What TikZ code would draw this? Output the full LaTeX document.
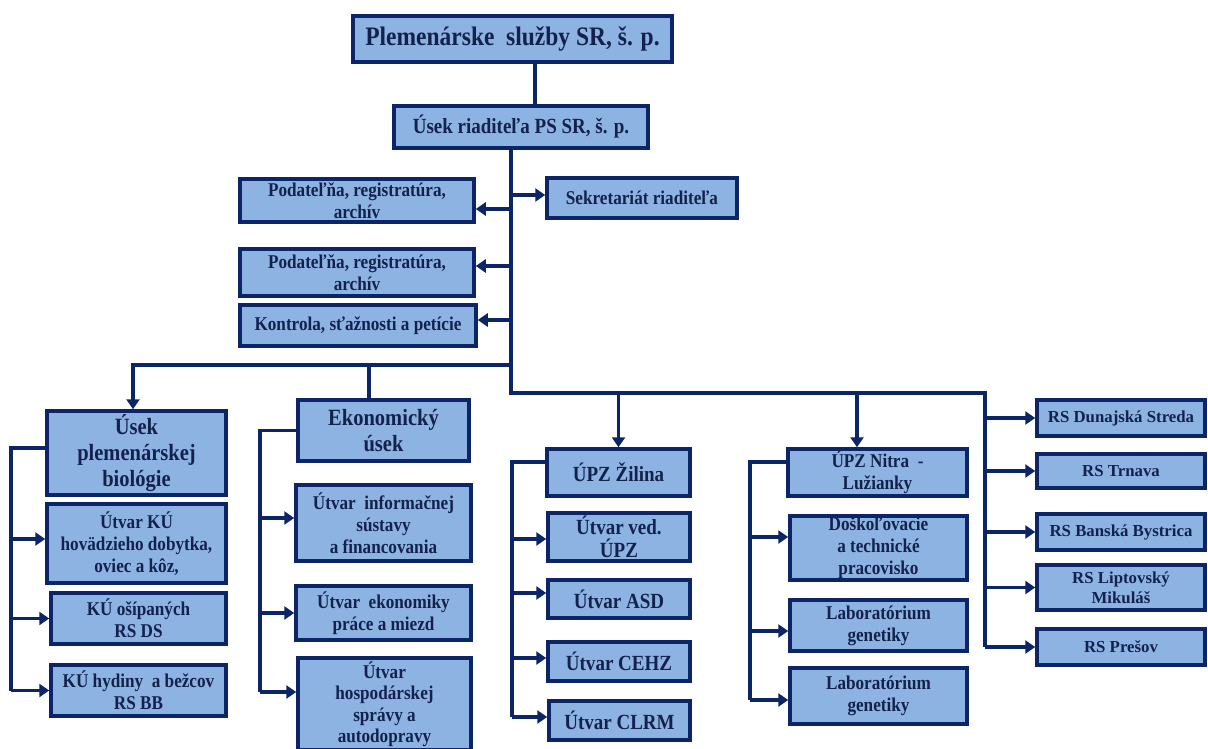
\documentclass[tikz,border=0pt]{standalone}
\usepackage{fontspec}
\setmainfont{Liberation Serif}[FakeStretch=0.88]
\newfontfamily\rsfont{Liberation Serif}
\usetikzlibrary{arrows.meta}
\definecolor{navy}{HTML}{0B2566}
\definecolor{fillb}{HTML}{8DB3E2}
\definecolor{txt}{HTML}{13224D}
\tikzset{
 box/.style={draw=navy, fill=fillb, line width=3.5pt, text=txt, align=center, inner sep=0pt, font=\fontsize{19.5}{22}\selectfont\bfseries},
 bigtxt/.style={font=\fontsize{23.3}{26}\selectfont\bfseries},
 midtxt/.style={font=\fontsize{21.6}{23}\selectfont\bfseries},
 rstxt/.style={font=\rsfont\fontsize{16.8}{20}\selectfont\bfseries},
 conn/.style={draw=navy, line width=3.5pt},
 arr/.style={conn, -{Triangle[length=10pt,width=13pt]}},
}
\begin{document}
\begin{tikzpicture}[x=1pt,y=-1pt]
\useasboundingbox (0,0) rectangle (1208,749);
\clip (0,0) rectangle (1208,749);
% top
\node[box, line width=4.5pt, font=\fontsize{26.7}{30}\selectfont\bfseries, minimum width=319pt, minimum height=46pt] (top) at (512.5,39) {Plemenárske\ \ služby SR, š. p.};
\node[box, midtxt, minimum width=254pt, minimum height=42pt] (usek) at (521,127) {Úsek riaditeľa PS SR, š. p.};
\node[box, minimum width=234pt, minimum height=43pt] (pod1) at (357,200.5) {Podateľňa, registratúra,\\ archív};
\node[box, minimum width=190pt, minimum height=40pt] (sekr) at (642,198) {Sekretariát riaditeľa};
\node[box, minimum width=234pt, minimum height=47pt] (pod2) at (357,272.5) {Podateľňa, registratúra,\\ archív};
\node[box, minimum width=236pt, minimum height=41pt] (kontr) at (358,325.5) {Kontrola, sťažnosti a petície};
% column 1
\node[box, bigtxt, minimum width=179pt, minimum height=84pt] (upb) at (136.5,453) {Úsek\\plemenárskej\\biológie};
\node[box, minimum width=179pt, minimum height=79pt] (utku) at (136.5,543.5) {Útvar KÚ\\hovädzieho dobytka,\\oviec a kôz,};
\node[box, minimum width=175pt, minimum height=51pt] (kuos) at (138.5,618.5) {KÚ ošípaných\\RS DS};
\node[box, minimum width=175pt, minimum height=51pt] (kuhy) at (138.5,690.5) {KÚ hydiny\ \ a bežcov\\RS BB};
% column 2
\node[box, bigtxt, minimum width=171pt, minimum height=61pt] (eko) at (383.5,430.5) {Ekonomický\\úsek};
\node[box, minimum width=175pt, minimum height=76pt] (inf) at (383.5,523) {Útvar\ \ informačnej\\sústavy\\a financovania};
\node[box, minimum width=175pt, minimum height=54pt] (ekon) at (383.5,613) {Útvar\ \ ekonomiky\\práce a miezd};
\node[box, font=\fontsize{19.5}{21.5}\selectfont\bfseries, minimum width=173pt, minimum height=92pt] (hosp) at (384.5,704) {Útvar\\hospodárskej\\správy a\\autodopravy};
% column 3
\node[box, midtxt, minimum width=143pt, minimum height=47pt] (zil) at (618.5,472.5) {ÚPZ Žilina};
\node[box, midtxt, minimum width=142pt, minimum height=48pt] (ved) at (619,537) {Útvar ved.\\ÚPZ};
\node[box, midtxt, minimum width=142pt, minimum height=38pt] (asd) at (619,599) {Útvar ASD};
\node[box, midtxt, minimum width=142pt, minimum height=39pt] (cehz) at (619,661.5) {Útvar CEHZ};
\node[box, midtxt, minimum width=141pt, minimum height=39pt] (clrm) at (619.5,720.5) {Útvar CLRM};
% column 4
\node[box, minimum width=179pt, minimum height=47pt] (nitra) at (877.5,472.5) {ÚPZ Nitra\ \ -\\Lužianky};
\node[box, minimum width=177pt, minimum height=64pt] (dosk) at (878.5,548) {Doškoľovacie\\a technické\\pracovisko};
\node[box, minimum width=177pt, minimum height=51pt] (lab1) at (878.5,625.5) {Laboratórium\\genetiky};
\node[box, minimum width=177pt, minimum height=56pt] (lab2) at (878.5,696) {Laboratórium\\genetiky};
% column 5
\node[box, rstxt, minimum width=168pt, minimum height=36pt] (rs1) at (1121,418) {RS Dunajská Streda};
\node[box, rstxt, minimum width=168pt, minimum height=34pt] (rs2) at (1121,471) {RS Trnava};
\node[box, rstxt, minimum width=168pt, minimum height=36pt] (rs3) at (1121,532) {RS Banská Bystrica};
\node[box, rstxt, minimum width=168pt, minimum height=45pt] (rs4) at (1121,587.5) {RS Liptovský\\Mikuláš};
\node[box, rstxt, minimum width=168pt, minimum height=36pt] (rs5) at (1121,647) {RS Prešov};

% connectors
\coordinate (a1) at ([xshift=14pt]usek.north);
\draw[conn] (a1 |- top.south) -- (a1);
\coordinate (t0) at ([xshift=-10pt]usek.south);
\coordinate (bj) at (511,393);
\coordinate (rj) at (985,393);
\coordinate (lj) at (511,365);
\draw[conn] (t0) -- (bj) -- (rj) -- (rj |- rs5.west);
\coordinate (s1) at ([yshift=3pt]sekr.west);
\draw[arr] (s1 -| t0) -- (s1);
\coordinate (p1) at ([yshift=-8.5pt]pod1.east);
\draw[arr] (p1 -| t0) -- (p1);
\coordinate (p2) at ([yshift=6.5pt]pod2.east);
\draw[arr] (p2 -| t0) -- (p2);
\coordinate (p3) at ([yshift=5.5pt]kontr.east);
\draw[arr] (p3 -| t0) -- (p3);
% left bar
\coordinate (ua) at ([xshift=-3.5pt]upb.north);
\draw[arr] (lj) -- (lj -| ua) -- (ua);
\coordinate (ek) at (369,365);
\draw[conn] (ek) -- (ek |- eko.north);
% bracket column 1
\coordinate (ux) at (11,0);
\coordinate (u1) at ([yshift=5pt]upb.west);
\draw[conn] (u1) -- (u1 -| ux) -- (ux |- kuhy.west);
\coordinate (u2) at ([yshift=4.5pt]utku.west);
\draw[arr] (u2 -| ux) -- (u2);
\draw[arr] (ux |- kuos.west) -- (kuos.west);
\draw[arr] (ux |- kuhy.west) -- (kuhy.west);
% bracket column 2
\coordinate (ex) at (260,0);
\coordinate (h1) at ([yshift=12pt]hosp.west);
\draw[conn] (eko.west) -- (eko.west -| ex) -- (ex |- h1);
\coordinate (e1) at ([yshift=5pt]inf.west);
\draw[arr] (e1 -| ex) -- (e1);
\draw[arr] (ex |- ekon.west) -- (ekon.west);
\draw[arr] (h1 -| ex) -- (h1);
% column 3
\draw[arr] (bj -| zil.north) -- (zil.north);
\coordinate (zx) at (512,0);
\coordinate (z0) at ([yshift=10.5pt]zil.west);
\coordinate (z1) at ([yshift=-2pt]ved.west);
\coordinate (z2) at ([yshift=6pt]asd.west);
\coordinate (z3) at ([yshift=3.5pt]cehz.west);
\coordinate (z4) at ([yshift=3.5pt]clrm.west);
\draw[conn] (z0) -- (z0 -| zx) -- (zx |- z4);
\draw[arr] (z1 -| zx) -- (z1);
\draw[arr] (z2 -| zx) -- (z2);
\draw[arr] (z3 -| zx) -- (z3);
\draw[arr] (z4 -| zx) -- (z4);
% column 4
\coordinate (na) at ([xshift=-20.5pt]nitra.north);
\draw[arr] (na |- bj) -- (na);
\coordinate (nx) at (750,0);
\coordinate (n0) at ([yshift=10.5pt]nitra.west);
\coordinate (n1) at ([yshift=11pt]dosk.west);
\coordinate (n2) at ([yshift=-5.5pt]lab1.west);
\coordinate (n3) at ([yshift=-4pt]lab2.west);
\draw[conn] (n0) -- (n0 -| nx) -- (nx |- n3);
\draw[arr] (n1 -| nx) -- (n1);
\draw[arr] (n2 -| nx) -- (n2);
\draw[arr] (n3 -| nx) -- (n3);
% column 5
\draw[arr] (rj |- rs1.west) -- (rs1.west);
\draw[arr] (rj |- rs2.west) -- (rs2.west);
\draw[arr] (rj |- rs3.west) -- (rs3.west);
\draw[arr] (rj |- rs4.west) -- (rs4.west);
\draw[arr] (rj |- rs5.west) -- (rs5.west);
\end{tikzpicture}
\end{document}
